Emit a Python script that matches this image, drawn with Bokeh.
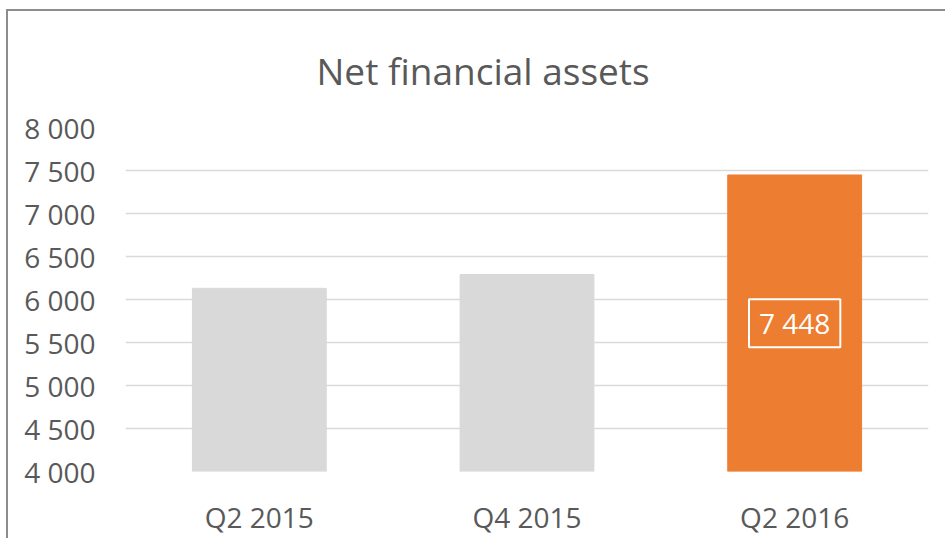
from bokeh.plotting import figure
from bokeh.models import FixedTicker, Label, ColumnDataSource
from bokeh.embed import file_html
from bokeh.resources import INLINE

categories = ["Q2 2015", "Q4 2015", "Q2 2016"]
values = [6130, 6290, 7448]
bar_colors = ["#d9d9d9", "#d9d9d9", "#ed7d31"]
y_ticks = [4000, 4500, 5000, 5500, 6000, 6500, 7000, 7500, 8000]
y_tick_labels = ["4 000", "4 500", "5 000", "5 500", "6 000", "6 500", "7 000", "7 500", "8 000"]
highlight_label = "7 448"
title_text = "Net financial assets"

FONT = "Open Sans"
GREY = "#595959"

p = figure(x_range=categories, y_range=(4000, 8000), width=939, height=529,
           output_backend="svg", toolbar_location=None,
           min_border_left=117, min_border_right=19, min_border_bottom=69, min_border_top=108,
           title=title_text)
p.styles = {"border-left": "2px solid #8c8c8c", "border-top": "2px solid #8c8c8c",
            "margin-left": "6px", "margin-top": "9px"}
p.outline_line_color = None
p.background_fill_color = "white"
p.border_fill_color = "white"

p.title.text_font = FONT
p.title.text_font_size = "37px"
p.title.text_font_style = "normal"
p.title.text_color = GREY
p.title.align = "left"
p.title.offset = 191
p.title.text_line_height = 0.5
p.title.standoff = 63

src = ColumnDataSource(dict(cat=categories, val=values, color=bar_colors))
p.vbar(x="cat", top="val", bottom=4000, width=0.5, color="color", source=src)

yi = values.index(max(values))
lab = Label(x=yi + 0.5, y=(4000 + values[yi]) / 2, text=highlight_label,
            text_font=FONT, text_font_size="28px", text_color="white",
            text_align="center", text_baseline="middle",
            border_line_color="white", border_line_width=2, padding=(10, 5))
p.add_layout(lab)

p.xgrid.grid_line_color = None
p.ygrid.grid_line_color = "#d9d9d9"
p.ygrid.grid_line_width = 1.5

p.yaxis.ticker = FixedTicker(ticks=y_ticks)
p.yaxis.major_label_overrides = {t: s for t, s in zip(y_ticks, y_tick_labels)}
for ax in (p.xaxis, p.yaxis):
    ax.axis_line_color = None
    ax.major_tick_line_color = None
    ax.minor_tick_line_color = None
    ax.major_tick_out = 0
    ax.major_tick_in = 0
    ax.major_label_text_font = FONT
    ax.major_label_text_font_size = "28px"
    ax.major_label_text_color = GREY
p.yaxis.major_label_standoff = 30
p.xaxis.major_label_standoff = 26

open("out.html", "w").write(file_html(p, INLINE))
